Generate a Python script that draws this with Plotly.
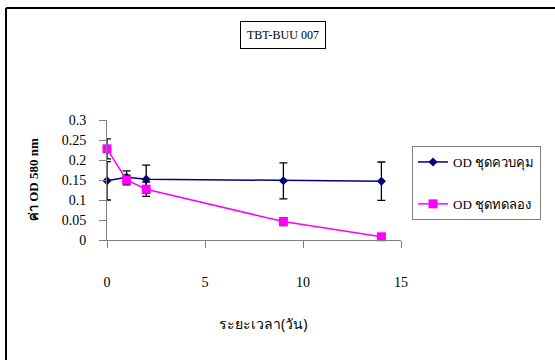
import plotly.graph_objects as go

# Sampling days
days = [0, 1, 2, 9, 14]

# Optical density at 580 nm, mean and error per day
od_control = [0.148, 0.157, 0.152, 0.148, 0.147]
err_control = [0.048, 0.016, 0.035, 0.045, 0.048]
od_treat = [0.228, 0.150, 0.127, 0.046, 0.008]
err_treat = [0.025, 0.012, 0.018, 0.010, 0.004]

name_control = "OD ชุดควบคุม"
name_treat = "OD ชุดทดลอง"
chart_label = "TBT-BUU 007"
x_title = "ระยะเวลา(วัน)"
y_title = "ค่า OD 580 nm"

x_ticks = [0, 5, 10, 15]
y_ticks = [0, 0.05, 0.1, 0.15, 0.2, 0.25, 0.3]
y_ticklabels = ["0", "0.05", "0.1", "0.15", "0.2", "0.25", "0.3"]

serif = "Liberation Serif, Times New Roman, serif"

# plot area geometry in pixels (used to place paper-referenced decorations)
L, R, T, B = 107, 154, 120, 120
W, H = 555, 360
pw, ph = W - L - R, H - T - B


def px_x(p):
    return (p - L) / pw


def px_y(p):
    return (H - B - p) / ph


fig = go.Figure()
fig.add_trace(go.Scatter(
    x=days, y=od_control, name=name_control, mode="lines+markers",
    line=dict(color="#000080", width=1.5),
    marker=dict(symbol="diamond", size=7, color="#000080"),
    error_y=dict(type="data", array=err_control, color="black", thickness=1.3, width=4),
    legendgroup="a", cliponaxis=False,
))
fig.add_trace(go.Scatter(
    x=days, y=od_treat, name=name_treat, mode="lines+markers",
    line=dict(color="#FF00FF", width=1.5),
    marker=dict(symbol="square", size=9, color="#FF00FF"),
    error_y=dict(type="data", array=err_treat, color="black", thickness=1.3, width=4),
    legendgroup="b", cliponaxis=False,
))

axis_common = dict(
    showgrid=False, zeroline=False, showline=True, linecolor="#808080", linewidth=1,
    ticks="outside", ticklen=7, tickcolor="#808080", tickwidth=1,
    tickfont=dict(family=serif, size=14, color="black"),
)

fig.update_xaxes(range=[0, 15], tickvals=x_ticks, ticklabelstandoff=22, **axis_common)
fig.update_yaxes(range=[0, 0.3], tickvals=y_ticks, ticktext=y_ticklabels,
                 ticklabelstandoff=10, **axis_common)

fig.update_layout(
    width=W, height=H,
    margin=dict(l=L, r=R, t=T, b=B, autoexpand=False),
    paper_bgcolor="white", plot_bgcolor="white",
    showlegend=True,
    legend=dict(
        x=px_x(412), y=px_y(146), xanchor="left", yanchor="top",
        bordercolor="#808080", borderwidth=1, bgcolor="white",
        font=dict(family=serif, size=13, color="black"),
        traceorder="grouped", tracegroupgap=22, itemwidth=30,
    ),
    annotations=[
        dict(text=chart_label, x=px_x(283), y=px_y(35), xref="paper", yref="paper",
             xanchor="center", yanchor="middle",
             showarrow=False, font=dict(family=serif, size=12, color="black"),
             bordercolor="black", borderwidth=1, borderpad=6, bgcolor="white"),
        dict(text="<b>" + y_title + "</b>", x=px_x(33), y=0.5, xref="paper", yref="paper",
             xanchor="center", yanchor="middle",
             showarrow=False, textangle=-90, font=dict(family=serif, size=13, color="black")),
        dict(text=x_title, x=px_x(263), y=px_y(323), xref="paper", yref="paper",
             xanchor="center", yanchor="middle",
             showarrow=False, font=dict(family="Noto Sans, DejaVu Sans, sans-serif", size=14, color="black")),
    ],
    shapes=[
        dict(type="line", xref="paper", yref="paper", x0=px_x(6), x1=px_x(6),
             y0=px_y(8), y1=px_y(362), line=dict(color="black", width=2)),
        dict(type="line", xref="paper", yref="paper", x0=px_x(6), x1=px_x(560),
             y0=px_y(8), y1=px_y(8), line=dict(color="black", width=2)),
    ],
)

fig.write_html("out.html")
